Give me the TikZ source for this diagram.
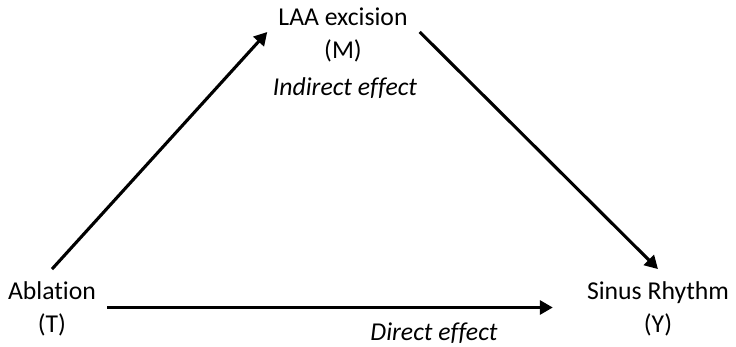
\documentclass[tikz,border=0pt]{standalone}
\usepackage{fontspec}
\setmainfont{Carlito}[Ligatures=NoCommon]
\usetikzlibrary{arrows.meta}
\tikzset{
  var/.style={align=center, inner sep=0pt, font=\fontsize{25.7}{33}\selectfont},
  lbl/.style={inner sep=0pt, font=\fontsize{25.7}{33}\selectfont\itshape},
  conn/.style={line width=3.1pt, -{Triangle[length=13pt,width=14pt]}}
}
\begin{document}
\begin{tikzpicture}[x=1pt,y=-1pt]
\path[use as bounding box] (0,0) rectangle (736,347);
\node[var] (T) at (52,308.5) {Ablation\\(T)};
\node[var] (M) at (343,34.5) {LAA excision\\(M)};
\node[var] (Y) at (658,308.5) {Sinus Rhythm\\(Y)};
\node[lbl] (ind) at (345,88) {Indirect effect};
\node[lbl] (dir) at (434,333) {Direct effect};
\draw[conn] ([yshift=12pt]T.north) -- ([xshift=-11pt,yshift=2.5pt]M.west);
\draw[conn] ([xshift=12pt,yshift=2.5pt]M.east) -- ([yshift=12pt]Y.north);
\draw[conn] ([xshift=11pt,yshift=1pt]T.east) -- ([xshift=-34pt,yshift=1pt]Y.west);
\end{tikzpicture}
\end{document}
